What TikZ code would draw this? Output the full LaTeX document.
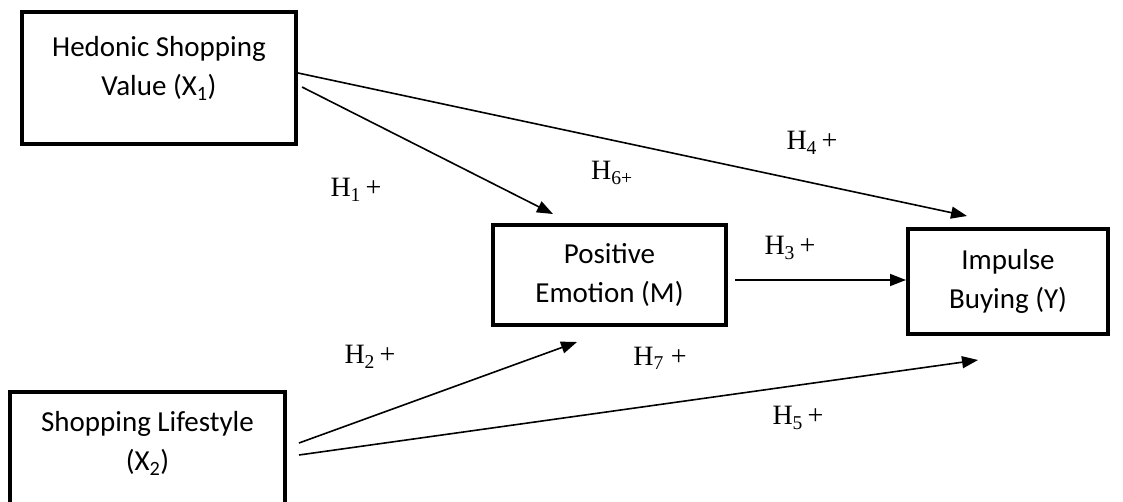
\documentclass[tikz,border=0pt]{standalone}
\usepackage{fontspec}
\setmainfont{Carlito}
\newfontfamily\tnr{Liberation Serif}
\usetikzlibrary{arrows.meta,positioning}

\begin{document}
\begin{tikzpicture}[x=1pt,y=-1pt,
  box/.style={draw,line width=4pt,align=center,font=\fontsize{29}{39}\selectfont},
  hyp/.style={font=\tnr\fontsize{28}{30}\selectfont},
  arr/.style={-{Triangle[length=16pt,width=12pt]},line width=1.6pt}]
  \useasboundingbox (0,0) rectangle (1123,502);
  % constructs
  \node[box,minimum width=274pt,minimum height=132pt,text depth=24pt] (hsv) at (159,78) {Hedonic Shopping\\Value (X\textsubscript{1})};
  \node[box,minimum width=233pt,minimum height=100pt] (pe) at (609.5,275) {Positive\\Emotion (M)};
  \node[box,minimum width=200pt,minimum height=105pt] (ib) at (1008,281.5) {Impulse\\Buying (Y)};
  \node[box,minimum width=275pt,minimum height=128pt,text depth=30pt] (sl) at (147.5,456) {Shopping Lifestyle\\(X\textsubscript{2})};
  % end points of the paths
  \coordinate (h4a) at ([yshift=5pt]hsv.east);
  \coordinate (h1a) at ([xshift=4pt,yshift=-9pt]hsv.east);
  \coordinate (h2a) at ([xshift=12pt,yshift=13pt]sl.east);
  \coordinate (h5a) at ([xshift=12pt,yshift=1pt]sl.east);
  \coordinate (h3a) at ([xshift=7pt,yshift=-5pt]pe.east);
  \coordinate (h1b) at ([xshift=-56.5pt,yshift=9pt]pe.north);
  \coordinate (h2b) at ([xshift=-32.5pt,yshift=-15pt]pe.south);
  \coordinate (h4b) at ([xshift=-41pt,yshift=11pt]ib.north);
  \coordinate (h5b) at ([xshift=-30pt,yshift=-24pt]ib.south);
  % paths
  \draw[arr] (h4a) -- (h4b);
  \draw[arr] (h1a) -- (h1b);
  \draw[arr] (h3a) -- (h3a -| ib.west);
  \draw[arr] (h2a) -- (h2b);
  \draw[arr] (h5a) -- (h5b);
  % hypotheses
  \node[hyp] (l1) at (356,190) {H\textsubscript{1}\,+};
  \node[hyp] (l2) at (370,357) {H\textsubscript{2}\,+};
  \node[hyp] (l3) at (790,248) {H\textsubscript{3}\,+};
  \node[hyp] (l4) at (812,143) {H\textsubscript{4}\,+};
  \node[hyp] (l5) at (798,418) {H\textsubscript{5}\,+};
  \node[hyp] (l6) at (612,173) {H\textsubscript{6+}};
  \node[hyp] (l7) at (660,358) {H\textsubscript{7} +};
\end{tikzpicture}
\end{document}
